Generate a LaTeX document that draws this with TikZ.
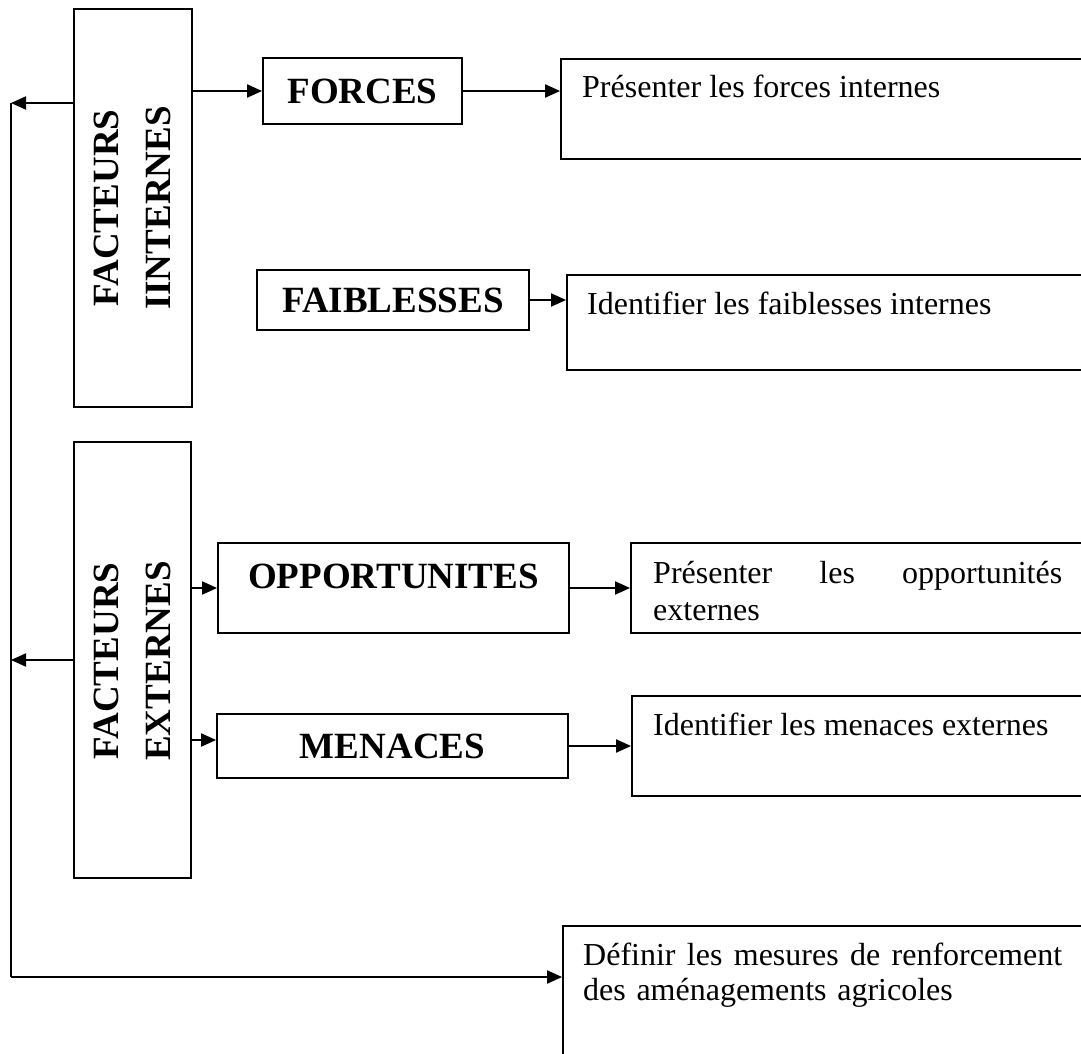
\documentclass[tikz,border=0pt]{standalone}
\usepackage{fontspec}
\setmainfont{Liberation Serif}
\usetikzlibrary{arrows.meta}
\begin{document}
\begin{tikzpicture}[x=1pt,y=-1pt,
  box/.style={draw, line width=1.8pt, inner sep=0pt},
  head/.style={box, font=\fontsize{37}{42}\selectfont\bfseries},
  vert/.style={box},
  vtxt/.style={font=\fontsize{37}{52}\selectfont\bfseries, rotate=90, align=center, inner sep=0pt},
  txt/.style={inner sep=0pt, font=\fontsize{32}{37}\selectfont},
  arr/.style={-{Triangle[length=15pt,width=13pt]}, line width=2pt},
  ln/.style={line width=2pt}]
\useasboundingbox (0,0) rectangle (1081,1054);
\clip (0,0) rectangle (1081,1054);
% left factor boxes
\node[vert, minimum width=118pt, minimum height=398pt] (fi) at (133,208) {};
\node[vtxt] (fitxt) at (132,208) {FACTEURS\\IINTERNES};
\node[vert, minimum width=117pt, minimum height=436pt] (fe) at (132.5,660) {};
\node[vtxt] (fetxt) at (132,661) {FACTEURS\\EXTERNES};
% middle boxes
\node[head, minimum width=199pt, minimum height=66pt] (forces) at (362.5,91) {FORCES};
\node[head, minimum width=272pt, minimum height=60pt] (faib) at (393,300) {FAIBLESSES};
\node[head, minimum width=351pt, minimum height=90pt, text depth=24pt] (opp) at (393.5,588) {OPPORTUNITES};
\node[head, minimum width=351pt, minimum height=64pt] (men) at (392.5,746) {MENACES};
% right boxes
\node[box, minimum width=539pt, minimum height=100pt] (t1) at (830.5,109) {};
\node[box, minimum width=533pt, minimum height=95pt] (t2) at (833.5,322.5) {};
\node[box, minimum width=469pt, minimum height=90pt] (t3) at (865.5,588) {};
\node[box, minimum width=468pt, minimum height=100pt] (t4) at (866,746) {};
\node[box, minimum width=537pt, minimum height=174pt] (t5) at (831.5,1013) {};
% texts
\node[txt, anchor=base west] (t1txt) at (582,98) {Présenter les forces internes};
\node[txt, anchor=base west] (t2txt) at (587,314) {Identifier les faiblesses internes};
\node[txt, anchor=north west, text width=409pt, align=left] (t3txt) at (653,561) {Présenter\hfill les\hfill opportunités\\externes};
\node[txt, anchor=base west] (t4txt) at (653,735) {Identifier les menaces externes};
\node[txt, anchor=north west, text width=479pt, align=left, font=\fontsize{32}{35}\selectfont] (t5txt) at (583,943) {Définir\hfill les\hfill mesures\hfill de\hfill renforcement\\des aménagements agricoles};
% left feedback line
\coordinate (ltop) at (11,103);
\coordinate (lmid) at (11,660);
\coordinate (lbot) at (11,977);
\coordinate (menin) at (200,740);
\draw[arr] (fi.west |- ltop) -- (ltop);
\draw[arr] (fe.west |- lmid) -- (lmid);
\draw[ln] (ltop) -- (lbot);
\draw[arr] (lbot) -- (t5.west |- lbot);
% connectors
\draw[arr] (fi.east |- forces) -- (forces.west);
\draw[arr] (forces.east) -- (t1.west |- forces.east);
\draw[arr] (faib.east) -- (t2.west |- faib.east);
\draw[arr] (fe.east |- opp) -- (opp.west);
\draw[arr] (opp.east) -- (t3.west |- opp.east);
\draw[arr] (fe.east |- menin) -- (men.west |- menin);
\draw[arr] (men.east) -- (t4.west |- men.east);
\end{tikzpicture}
\end{document}
